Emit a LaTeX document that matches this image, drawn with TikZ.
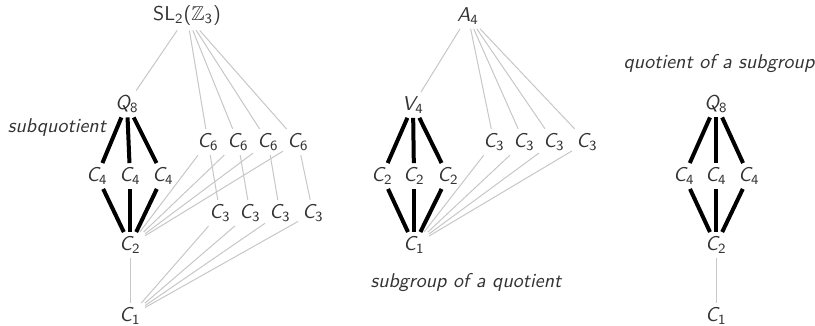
\documentclass[tikz,border=0pt]{standalone}
\usepackage{amsmath}
\usepackage{amssymb}
\renewcommand{\familydefault}{\sfdefault}
% group name: italic sans letter with an upright sans subscript
\newcommand{\grpname}[2]{$\textit{#1}_{\text{#2}}$}
\begin{document}
\begin{tikzpicture}[x=0.5pt,y=-0.5pt,
  grp/.style={font=\sffamily, text=black!80, inner sep=2pt},
  note/.style={font=\sffamily\itshape, text=black!80, inner sep=0pt},
  weak/.style={draw=black!22, line width=0.5pt},
  strong/.style={draw=black, line width=2pt}]
\useasboundingbox (0,0) rectangle (815,326);

% --- SL_2(Z_3) lattice ---
\node[grp] (sl) at (187,16) {$\text{SL}_{\text{2}}\text{(}\mathbb{Z}_{\text{3}}\text{)}$};
\node[grp] (q) at (127,104) {\grpname{Q}{8}};
\node[grp] (la) at (97,176) {\grpname{C}{4}};
\node[grp] (lb) at (130,176) {\grpname{C}{4}};
\node[grp] (lc) at (163,176) {\grpname{C}{4}};
\node[grp] (ltwo) at (130,245) {\grpname{C}{2}};
\node[grp] (lone) at (130,316) {\grpname{C}{1}};
\foreach \i/\x in {1/208,2/238,3/268,4/298}
  \node[grp] (six\i) at (\x,142) {\grpname{C}{6}};
\foreach \i/\x in {1/220,2/250,3/280,4/313}
  \node[grp] (three\i) at (\x,213) {\grpname{C}{3}};
\node[note] (subq) at (57,128) {subquotient};

\draw[weak] (sl) -- (q);
\foreach \i in {1,...,4} {
  \draw[weak] (sl) -- (six\i);
  \draw[weak] (six\i) -- (ltwo);
  \draw[weak] (six\i) -- (three\i);
  \draw[weak] (three\i) -- (lone);
}
\draw[weak] (ltwo) -- (lone);
\foreach \n in {la,lb,lc} {
  \draw[strong] (q) -- (\n);
  \draw[strong] (\n) -- (ltwo);
}

% --- A_4 lattice ---
\node[grp] (a) at (468,16) {\grpname{A}{4}};
\node[grp] (v) at (413,105) {\grpname{V}{4}};
\node[grp] (ma) at (382,176) {\grpname{C}{2}};
\node[grp] (mb) at (414,176) {\grpname{C}{2}};
\node[grp] (mc) at (448,176) {\grpname{C}{2}};
\node[grp] (mone) at (414,245) {\grpname{C}{1}};
\foreach \i/\x in {1/494,2/524,3/554,4/587}
  \node[grp] (mthree\i) at (\x,142) {\grpname{C}{3}};
\node[note] (subgq) at (466,283) {subgroup of a quotient};

\draw[weak] (a) -- (v);
\foreach \i in {1,...,4} {
  \draw[weak] (a) -- (mthree\i);
  \draw[weak] (mthree\i) -- (mone);
}
\foreach \n in {ma,mb,mc} {
  \draw[strong] (v) -- (\n);
  \draw[strong] (\n) -- (mone);
}

% --- Q_8 lattice ---
\node[note] (qsub) at (719,64) {quotient of a subgroup};
\node[grp] (rq) at (716,104) {\grpname{Q}{8}};
\node[grp] (ra) at (684,176) {\grpname{C}{4}};
\node[grp] (rb) at (716,176) {\grpname{C}{4}};
\node[grp] (rc) at (749,176) {\grpname{C}{4}};
\node[grp] (rtwo) at (716,245) {\grpname{C}{2}};
\node[grp] (rone) at (716,316) {\grpname{C}{1}};
\foreach \n in {ra,rb,rc} {
  \draw[strong] (rq) -- (\n);
  \draw[strong] (\n) -- (rtwo);
}
\draw[weak] (rtwo) -- (rone);
\end{tikzpicture}
\end{document}
